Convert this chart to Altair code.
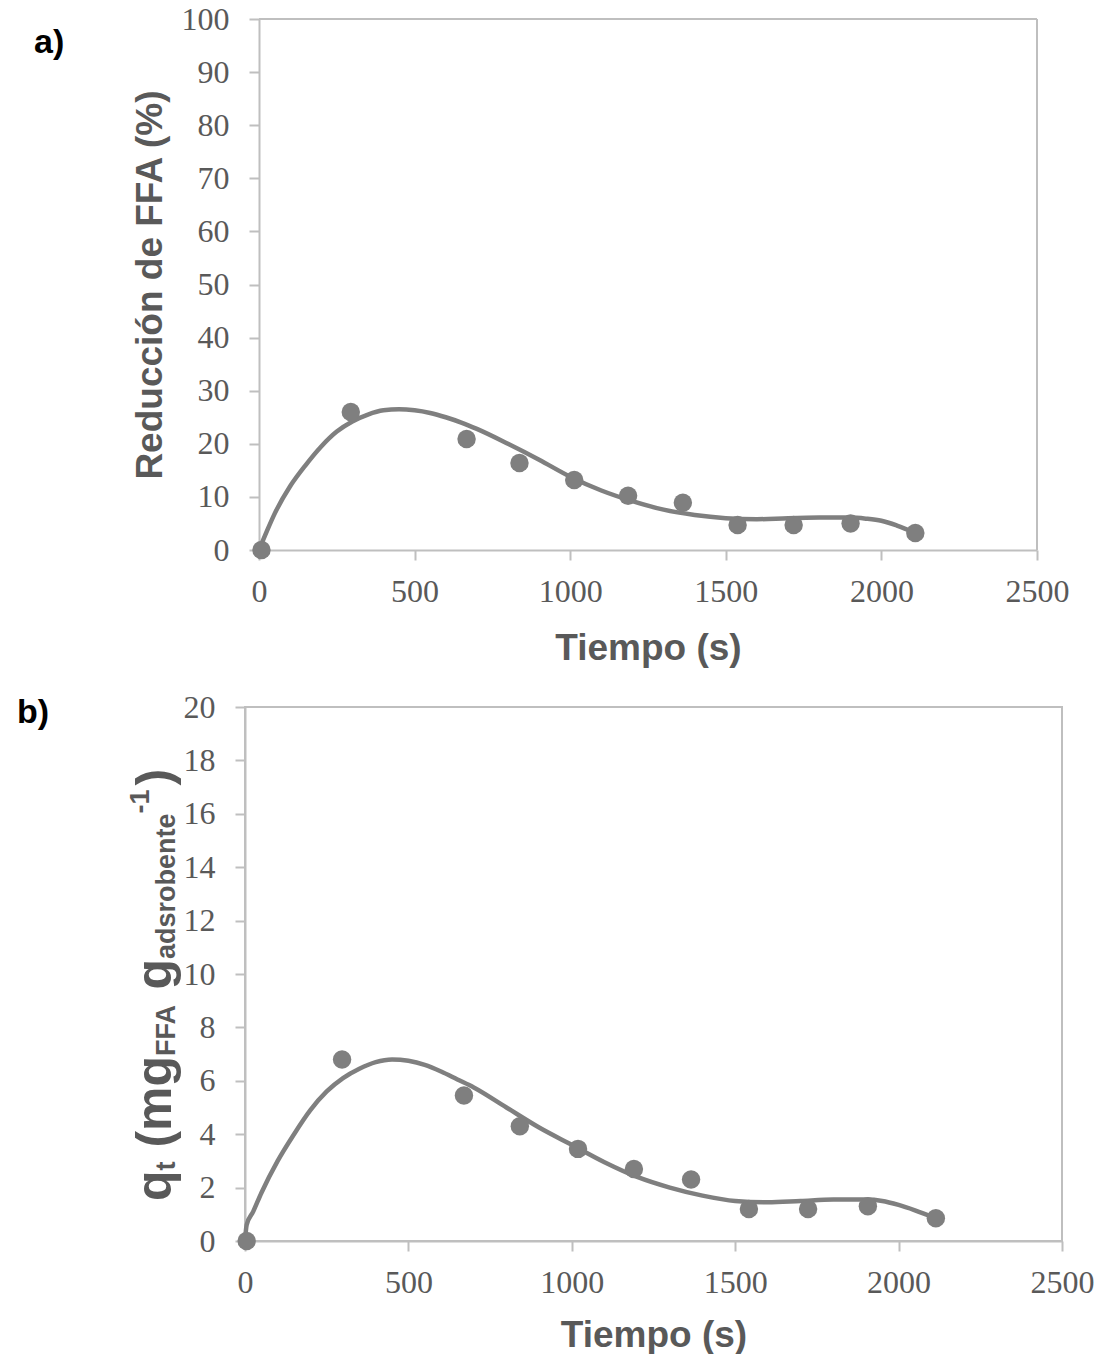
import altair as alt
import pandas as pd

# ---------------- data ----------------
# Panel a: Reducción de FFA (%)
time_a = [8, 295, 667, 837, 1013, 1186, 1362, 1538, 1718, 1901, 2109]
red_a = [0.0, 26.0, 20.9, 16.4, 13.2, 10.2, 8.9, 4.7, 4.7, 5.0, 3.2]
fit_time_a = [0, 25, 50, 100, 150, 200, 250, 300, 350, 400, 450, 500, 550, 600,
              650, 700, 800, 900, 1000, 1100, 1200, 1300, 1400, 1500, 1600,
              1700, 1800, 1900, 1950, 2000, 2050, 2110]
fit_red_a = [0.0, 3.5, 6.8, 12.0, 16.0, 19.5, 22.3, 24.2, 25.5, 26.3, 26.5, 26.3,
             25.8, 25.0, 24.0, 22.8, 20.0, 17.0, 13.8, 11.2, 9.2, 7.6, 6.6, 6.0,
             5.8, 6.0, 6.1, 6.1, 5.9, 5.5, 4.6, 3.2]

# Panel b: q_t (mg_FFA g_adsorbente^-1)
time_b = [5, 297, 670, 841, 1019, 1190, 1365, 1542, 1723, 1906, 2114]
q_b = [0.0, 6.8, 5.45, 4.3, 3.45, 2.7, 2.3, 1.2, 1.2, 1.3, 0.85]
fit_time_b = [0, 5, 25, 50, 100, 150, 200, 250, 300, 350, 400, 450, 500, 550,
              600, 650, 700, 800, 900, 1000, 1100, 1200, 1300, 1400, 1500, 1600,
              1700, 1800, 1900, 1950, 2000, 2050, 2115]
fit_q_b = [0.0, 0.6, 1.1, 1.8, 3.0, 4.0, 4.9, 5.6, 6.1, 6.45, 6.7, 6.8, 6.75,
           6.6, 6.35, 6.05, 5.75, 5.0, 4.25, 3.6, 2.95, 2.4, 2.0, 1.7, 1.5, 1.45,
           1.5, 1.55, 1.55, 1.5, 1.35, 1.15, 0.85]

x_ticks = [0, 500, 1000, 1500, 2000, 2500]
y_ticks_a = [0, 10, 20, 30, 40, 50, 60, 70, 80, 90, 100]
y_ticks_b = [0, 2, 4, 6, 8, 10, 12, 14, 16, 18, 20]

# ---------------- styling ----------------
GRAY = "#7f7f7f"
AXC = "#bfbfbf"
TXT = "#595959"
SANS = "Liberation Sans"
SERIF = "Liberation Serif"
TITLE_SIZE = 37
LABEL_SIZE = 32
ORIGIN_X = 243          # common left edge of the plot groups

one = pd.DataFrame({"k": [0]})


def axis(values, title, label_pad, **kw):
    return alt.Axis(values=values, format="d", title=title, grid=False,
                    labelFont=SERIF, labelFontSize=LABEL_SIZE, labelColor=TXT,
                    labelPadding=label_pad, labelFlush=False, labelOverlap=False,
                    tickColor=AXC, tickWidth=2, tickSize=10,
                    domainColor=AXC, domainWidth=2,
                    titleFont=SANS, titleFontSize=TITLE_SIZE, titleFontWeight="bold",
                    titleColor=TXT, **kw)


def anchor(x, y):
    return alt.Chart(one).mark_rule(color="white", strokeWidth=1).encode(
        x=alt.value(x), x2=alt.value(x + 1), y=alt.value(y), y2=alt.value(y + 1))


def text_at(txt, x, y, size, angle=0, color=TXT, align="left"):
    return alt.Chart(one).mark_text(
        text=txt, font=SANS, fontWeight="bold", fontSize=size, color=color,
        angle=angle, align=align, baseline="alphabetic").encode(
        x=alt.value(x), y=alt.value(y))


def panel(times, vals, ftimes, fvals, ymax, yticks, ytitle, xs, yoffset,
          ytitle_pad, xtitle_pad):
    pts = pd.DataFrame({"t": times, "v": vals})
    fit = pd.DataFrame({"t": ftimes, "v": fvals})
    ys = alt.Scale(domain=[0, ymax], nice=False)
    xenc = alt.X("t:Q", scale=xs, title="Tiempo (s)",
                 axis=axis(x_ticks, "Tiempo (s)", 16, titlePadding=xtitle_pad))
    yenc = alt.Y("v:Q", scale=ys, title=ytitle,
                 axis=axis(yticks, ytitle, 20, titlePadding=ytitle_pad,
                           offset=yoffset))
    line = alt.Chart(fit).mark_line(color=GRAY, strokeWidth=4.5,
                                    interpolate="monotone").encode(x=xenc, y=yenc)
    dots = alt.Chart(pts).mark_circle(color=GRAY, size=340, opacity=1).encode(
        x=alt.X("t:Q", scale=xs, title="Tiempo (s)"),
        y=alt.Y("v:Q", scale=ys, title=ytitle))
    return line, dots


# ---------------- panel a ----------------
# plot area spans 257..1035 px; group starts at 243 so both panels share origin
SHIFT_A = 257 - ORIGIN_X
WA, HA = 1035 - ORIGIN_X, 531
xs_a = alt.Scale(domain=[0, 2500], nice=False, range=[SHIFT_A, WA])
line_a, dots_a = panel(time_a, red_a, fit_time_a, fit_red_a, 100, y_ticks_a,
                       "Reducción de FFA (%)", xs_a, -SHIFT_A, 12, 23)
frame_top = alt.Chart(one).mark_rule(color=AXC, strokeWidth=2).encode(
    x=alt.datum(0), x2=alt.datum(2500), y=alt.value(0))
frame_right = alt.Chart(one).mark_rule(color=AXC, strokeWidth=2).encode(
    x=alt.datum(2500), y=alt.value(0), y2=alt.value(HA))
pa = alt.layer(
    frame_top, frame_right, line_a, dots_a,
    text_at("a)", 32 - ORIGIN_X, 34, 34, color="black"),
    anchor(-ORIGIN_X, -22), anchor(-ORIGIN_X, 662),
).properties(width=WA, height=HA, view=alt.ViewBackground(stroke="transparent"))

# ---------------- panel b ----------------
WB, HB = 817, 534
xs_b = alt.Scale(domain=[0, 2500], nice=False)
line_b, dots_b = panel(time_b, q_b, fit_time_b, fit_q_b, 20, y_ticks_b,
                       "", xs_b, 0, 12, 19)

# rich-text y title for panel b (subscripts / superscript), drawn bottom-to-top
WIDTHS = {"q": 611, "t": 333, "(": 333, "m": 889, "g": 611, "F": 611,
          "A": 722, "a": 556, "d": 611, "s": 556, "r": 389, "o": 611, "b": 611,
          "e": 556, "n": 611, "-": 333, "1": 556, ")": 333}
BIG, SMALL = 50, 27
SPACE = 0.278 * BIG
segments = [("q", "base", 0), ("t", "sub", 0), ("(mg", "base", SPACE),
            ("FFA", "sub", 0), ("g", "base", SPACE), ("adsrobente", "sub", 0),
            ("-1", "sup", 0), (")", "base", 4)]
xpos = {"base": 169 - ORIGIN_X, "sub": 173 - ORIGIN_X, "sup": 147 - ORIGIN_X}
title_layers = []
ycur = 1200.0 - 706.0
for txt, kind, gap in segments:
    size = BIG if kind == "base" else SMALL
    ycur -= gap
    title_layers.append(text_at(txt, xpos[kind], ycur, size, angle=270))
    ycur -= sum(WIDTHS[c] for c in txt) / 1000.0 * size

pb = alt.layer(
    line_b, dots_b, *title_layers,
    text_at("b)", 15 - ORIGIN_X, 16, 34, color="black"),
    anchor(-ORIGIN_X, -21),
).properties(width=WB, height=HB)

chart = alt.concat(pa, pb, columns=1, spacing=0).properties(
    bounds="full", padding={"left": 0, "top": -5, "right": 0, "bottom": 0},
    background="white"
).configure_view(stroke=AXC, strokeWidth=2)

chart.save("out.html", embed_options={"renderer": "svg", "actions": False})
